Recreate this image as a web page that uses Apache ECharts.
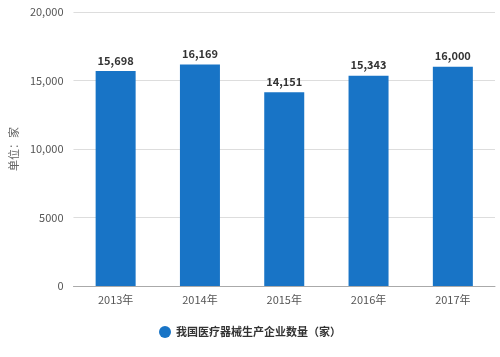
<!DOCTYPE html>
<html><head><meta charset="utf-8">
<script src="https://cdn.jsdelivr.net/npm/echarts@6/dist/echarts.min.js"></script>
<style>html,body{margin:0;padding:0;background:#fff}#c{width:500px;height:357px}</style>
</head><body><div id="c"></div>
<script>
var categories = ['2013年','2014年','2015年','2016年','2017年'];
var values = [15698, 16169, 14151, 15343, 16000];
var seriesName = '我国医疗器械生产企业数量（家）';
var yTicks = [0, 5000, 10000, 15000, 20000];
var yLabels = ['0','5000','10,000','15,000','20,000'];
var FONT = '"Noto Sans CJK SC","Microsoft YaHei",sans-serif';
var chart = echarts.init(document.getElementById('c'));
chart.setOption({
  animation:false,
  textStyle:{fontFamily:FONT},
  grid:{left:69,right:5,top:12,bottom:71},
  legend:{bottom:14,left:'center',icon:'circle',itemWidth:12,itemHeight:12,
    textStyle:{fontSize:11,color:'#333',fontWeight:'bold',fontFamily:FONT},data:[seriesName]},
  xAxis:{type:'category',data:categories,
    axisLine:{lineStyle:{color:'#aaa'}},
    axisTick:{alignWithLabel:true,length:4,lineStyle:{color:'#aaa'}},
    axisLabel:{color:'#555',fontSize:11,margin:8}},
  yAxis:{type:'value',min:0,max:20000,interval:5000,
    name:'单位：家',nameLocation:'middle',nameGap:50,nameRotate:90,
    nameTextStyle:{color:'#666',fontSize:11},
    axisLine:{show:false},axisTick:{show:false},
    splitLine:{lineStyle:{color:'#ddd'}},
    axisLabel:{color:'#555',fontSize:11,margin:10,formatter:function(v){var i=yTicks.indexOf(v);return i>=0?yLabels[i]:v;}}},
  series:[{name:seriesName,type:'bar',data:values,barWidth:40,
    itemStyle:{color:'#1874c6'},
    label:{show:true,position:'top',color:'#333',fontWeight:'bold',fontSize:11,
      formatter:function(p){return p.value.toLocaleString('en-US');}}}]
});
</script></body></html>
